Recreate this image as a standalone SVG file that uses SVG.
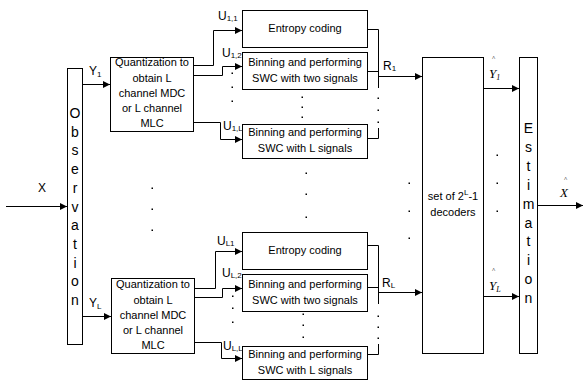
<svg xmlns="http://www.w3.org/2000/svg" width="583" height="380" viewBox="0 0 583 380">
<defs>
<style>
.box{fill:#fff;stroke:#000;stroke-width:1}
.ln{fill:none;stroke:#000;stroke-width:1}
.t{font-family:"Liberation Sans",Arial,sans-serif;font-size:11px;fill:#000;text-anchor:middle}
.big{font-family:"Liberation Sans",Arial,sans-serif;font-size:14px;fill:#000;text-anchor:middle}
.lb{font-family:"Liberation Sans",Arial,sans-serif;font-size:12px;fill:#000}
.sub{font-size:8px}
.m{font-family:"Liberation Serif","Times New Roman",serif;font-style:italic;font-size:13px;fill:#000}
.hat{font-family:"Liberation Serif","Times New Roman",serif;font-size:7px;fill:#000}
.dot{fill:#000}
</style>
<marker id="ah" markerWidth="8" markerHeight="8" refX="7" refY="3.5" orient="auto" markerUnits="userSpaceOnUse"><path d="M0,0 L7,3.5 L0,7 z" fill="#000"/></marker>
</defs>

<g id="observation">
<rect class="box" x="67.5" y="68.5" width="15" height="276"/>
<text class="big" x="75"><tspan x="75" y="118">O</tspan><tspan x="75" y="136.7">b</tspan><tspan x="75" y="155.4">s</tspan><tspan x="75" y="174.1">e</tspan><tspan x="75" y="192.8">r</tspan><tspan x="75" y="211.5">v</tspan><tspan x="75" y="230.2">a</tspan><tspan x="75" y="248.9">t</tspan><tspan x="75" y="267.6">i</tspan><tspan x="75" y="286.3">o</tspan><tspan x="75" y="305">n</tspan></text>
</g>

<g id="quant1">
<rect class="box" x="110.5" y="57.5" width="83" height="74"/>
<text class="t"><tspan x="152" y="66">Quantization to</tspan><tspan x="152" y="82">obtain L</tspan><tspan x="152" y="97">channel MDC</tspan><tspan x="152" y="112">or L channel</tspan><tspan x="152" y="127">MLC</tspan></text>
</g>
<g id="quantL">
<rect class="box" x="111.5" y="278.5" width="83" height="75"/>
<text class="t"><tspan x="153" y="288">Quantization to</tspan><tspan x="153" y="304">obtain L</tspan><tspan x="153" y="319">channel MDC</tspan><tspan x="153" y="334">or L channel</tspan><tspan x="153" y="349">MLC</tspan></text>
</g>

<g id="entropy1">
<rect class="box" x="242.5" y="10.5" width="125" height="37"/>
<text class="t" x="305" y="32">Entropy coding</text>
</g>
<g id="bin12">
<rect class="box" x="242.5" y="52.5" width="125" height="37"/>
<text class="t"><tspan x="305" y="66">Binning and performing</tspan><tspan x="305" y="82">SWC with two signals</tspan></text>
</g>
<g id="bin1L">
<rect class="box" x="242.5" y="124.5" width="125" height="34"/>
<text class="t"><tspan x="305" y="136">Binning and performing</tspan><tspan x="305" y="152">SWC with L signals</tspan></text>
</g>

<g id="entropyL">
<rect class="box" x="242.5" y="232.5" width="125" height="37"/>
<text class="t" x="305" y="254">Entropy coding</text>
</g>
<g id="binL2">
<rect class="box" x="242.5" y="274.5" width="125" height="37"/>
<text class="t"><tspan x="305" y="288">Binning and performing</tspan><tspan x="305" y="304">SWC with two signals</tspan></text>
</g>
<g id="binLL">
<rect class="box" x="242.5" y="346.5" width="125" height="33"/>
<text class="t"><tspan x="305" y="358">Binning and performing</tspan><tspan x="305" y="374">SWC with L signals</tspan></text>
</g>

<g id="decoders">
<rect class="box" x="422.5" y="57.5" width="61" height="296"/>
<text class="t" x="453" y="200">set of 2<tspan class="sub" dy="-5">L</tspan><tspan dy="5">-1</tspan></text>
<text class="t" x="453" y="216">decoders</text>
</g>

<g id="estimation">
<rect class="box" x="519.5" y="57.5" width="18" height="296"/>
<text class="big"><tspan x="528.5" y="133">E</tspan><tspan x="528.5" y="151.9">s</tspan><tspan x="528.5" y="170.8">t</tspan><tspan x="528.5" y="189.7">i</tspan><tspan x="528.5" y="208.6">m</tspan><tspan x="528.5" y="227.5">a</tspan><tspan x="528.5" y="246.4">t</tspan><tspan x="528.5" y="265.3">i</tspan><tspan x="528.5" y="284.2">o</tspan><tspan x="528.5" y="303.1">n</tspan></text>
</g>

<g id="connectors">
<path class="ln" d="M6,206.5 H67" marker-end="url(#ah)"/>
<path class="ln" d="M82,84.5 H110" marker-end="url(#ah)"/>
<path class="ln" d="M82,316.5 H111" marker-end="url(#ah)"/>
<path class="ln" d="M193,65.5 H213.5 V30.5 H242" marker-end="url(#ah)"/>
<path class="ln" d="M193,75.5 H222.5 V66.5 H242" marker-end="url(#ah)"/>
<path class="ln" d="M193,122.5 H220.5 V139.5 H242" marker-end="url(#ah)"/>
<path class="ln" d="M194,288.5 H215.5 V251.5 H242" marker-end="url(#ah)"/>
<path class="ln" d="M194,297.5 H222.5 V288.5 H242" marker-end="url(#ah)"/>
<path class="ln" d="M194,342.5 H221.5 V358.5 H242" marker-end="url(#ah)"/>
<path class="ln" d="M367,29.5 H378.5 V88"/>
<path class="ln" d="M367,71.5 H378.5"/>
<path class="ln" d="M367,138.5 H378.5 V128"/>
<path class="ln" d="M378,76.5 H422" marker-end="url(#ah)"/>
<path class="ln" d="M367,245.5 H378.5 V304"/>
<path class="ln" d="M367,287.5 H378.5"/>
<path class="ln" d="M367,354.5 H378.5 V344"/>
<path class="ln" d="M378,292.5 H422" marker-end="url(#ah)"/>
<path class="ln" d="M483,88.5 H519" marker-end="url(#ah)"/>
<path class="ln" d="M483,296.5 H519" marker-end="url(#ah)"/>
<path class="ln" d="M537,205.5 H583" marker-end="url(#ah)"/>
</g>

<g id="labels">
<text class="lb" x="38" y="192">X</text>
<text class="lb" x="89" y="75">Y<tspan class="sub" dy="2">1</tspan></text>
<text class="lb" x="89" y="307">Y<tspan class="sub" dy="2">L</tspan></text>
<text class="lb" x="218" y="20" font-size="11">U<tspan class="sub" dy="1">1,1</tspan></text>
<text class="lb" x="222" y="57" font-size="11">U<tspan class="sub" dy="1">1,2</tspan></text>
<text class="lb" x="223" y="130" font-size="11">U<tspan class="sub" dy="1">1,L</tspan></text>
<text class="lb" x="217" y="245" font-size="11">U<tspan class="sub" dy="1">L1</tspan></text>
<text class="lb" x="222" y="277" font-size="11">U<tspan class="sub" dy="1">L,2</tspan></text>
<text class="lb" x="223" y="350" font-size="11">U<tspan class="sub" dy="1">L,L</tspan></text>
<text class="lb" x="383" y="70">R<tspan class="sub" dy="1">1</tspan></text>
<text class="lb" x="382" y="287">R<tspan class="sub" dy="1">L</tspan></text>
<text class="hat" x="492" y="60">^</text>
<text class="m" x="489" y="78">Y<tspan font-size="8" dy="2">1</tspan></text>
<text class="hat" x="492" y="272">^</text>
<text class="m" x="489" y="290">Y<tspan font-size="8" dy="2">L</tspan></text>
<text class="hat" x="564" y="181">^</text>
<text class="m" x="560" y="197">X</text>
</g>

<g id="dots">
<rect class="dot" x="231.5" y="72.5" width="1.5" height="1.5"/>
<rect class="dot" x="231.5" y="86.5" width="1.5" height="1.5"/>
<rect class="dot" x="231.5" y="100.5" width="1.5" height="1.5"/>
<rect class="dot" x="232" y="295.5" width="1.5" height="1.5"/>
<rect class="dot" x="232" y="307.5" width="1.5" height="1.5"/>
<rect class="dot" x="232" y="321.5" width="1.5" height="1.5"/>
<rect class="dot" x="301.5" y="96.5" width="1.5" height="1.5"/>
<rect class="dot" x="301.5" y="106.5" width="1.5" height="1.5"/>
<rect class="dot" x="301.5" y="116.5" width="1.5" height="1.5"/>
<rect class="dot" x="302.5" y="313.5" width="1.5" height="1.5"/>
<rect class="dot" x="302.5" y="324.5" width="1.5" height="1.5"/>
<rect class="dot" x="302.5" y="336.5" width="1.5" height="1.5"/>
<rect class="dot" x="305.5" y="172.5" width="1.5" height="1.5"/>
<rect class="dot" x="305.5" y="193.5" width="1.5" height="1.5"/>
<rect class="dot" x="305.5" y="216.5" width="1.5" height="1.5"/>
<rect class="dot" x="151.5" y="187.5" width="1.5" height="1.5"/>
<rect class="dot" x="151.5" y="208.5" width="1.5" height="1.5"/>
<rect class="dot" x="151.5" y="229.5" width="1.5" height="1.5"/>
<rect class="dot" x="377.5" y="97.5" width="1.5" height="1.5"/>
<rect class="dot" x="377.5" y="109.5" width="1.5" height="1.5"/>
<rect class="dot" x="377.5" y="121.5" width="1.5" height="1.5"/>
<rect class="dot" x="377.5" y="315.5" width="1.5" height="1.5"/>
<rect class="dot" x="377.5" y="326.5" width="1.5" height="1.5"/>
<rect class="dot" x="377.5" y="337.5" width="1.5" height="1.5"/>
<rect class="dot" x="408.5" y="182.5" width="1.5" height="1.5"/>
<rect class="dot" x="408.5" y="210.5" width="1.5" height="1.5"/>
<rect class="dot" x="408.5" y="237.5" width="1.5" height="1.5"/>
<rect class="dot" x="496.5" y="154.5" width="1.5" height="1.5"/>
<rect class="dot" x="496.5" y="182.5" width="1.5" height="1.5"/>
<rect class="dot" x="496.5" y="210.5" width="1.5" height="1.5"/>
</g>
</svg>
